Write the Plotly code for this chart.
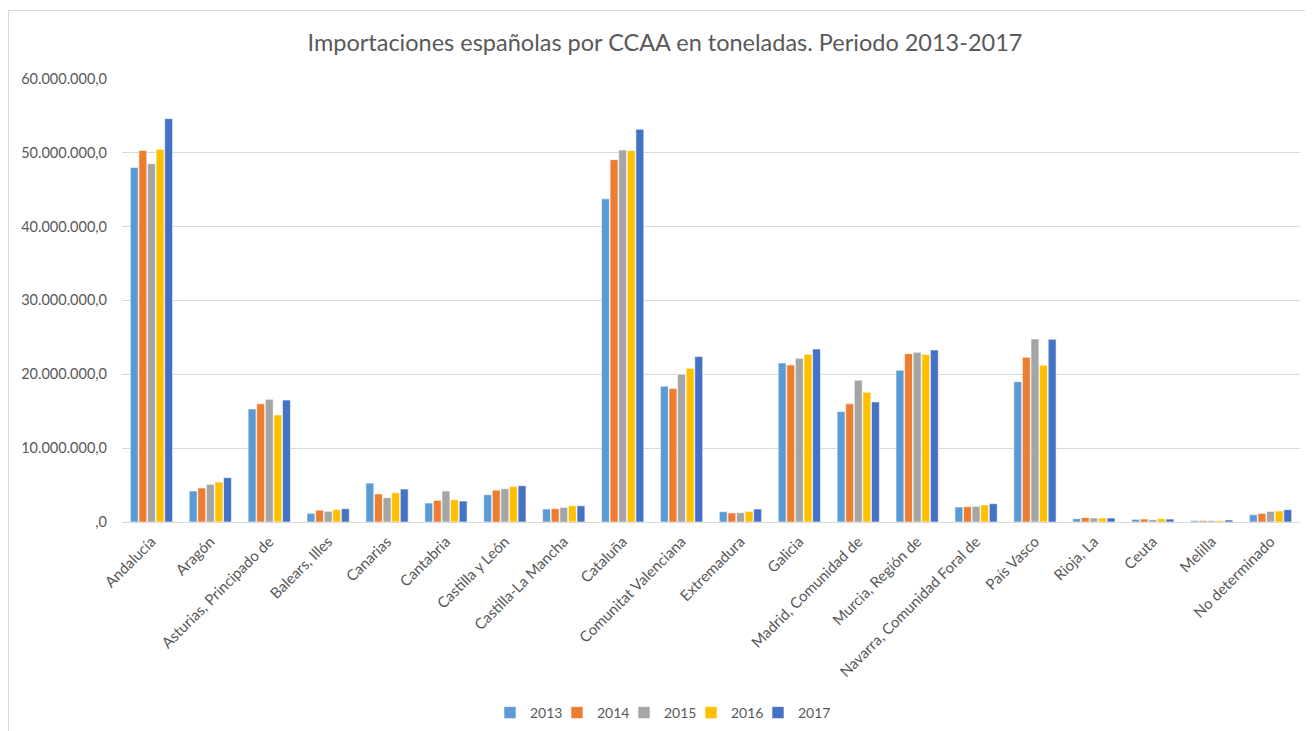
import plotly.graph_objects as go

categories = ["Andalucía", "Aragón", "Asturias, Principado de", "Balears, Illes", "Canarias",
              "Cantabria", "Castilla y León", "Castilla-La Mancha", "Cataluña", "Comunitat Valenciana",
              "Extremadura", "Galicia", "Madrid, Comunidad de", "Murcia, Región de",
              "Navarra, Comunidad Foral de", "País Vasco", "Rioja, La", "Ceuta", "Melilla", "No determinado"]

v2013 = [48.0, 4.2, 15.3, 1.17, 5.27, 2.57, 3.69, 1.76, 43.74, 18.38, 1.40, 21.53, 14.95, 20.54, 2.03, 19.00, 0.45, 0.36, 0.18, 0.99]
v2014 = [50.3, 4.6, 16.0, 1.60, 3.80, 2.93, 4.32, 1.80, 49.05, 18.06, 1.22, 21.26, 15.99, 22.79, 2.07, 22.30, 0.59, 0.40, 0.18, 1.17]
v2015 = [48.5, 5.1, 16.6, 1.45, 3.30, 4.19, 4.50, 1.98, 50.36, 20.00, 1.26, 22.16, 19.19, 22.97, 2.12, 24.77, 0.54, 0.32, 0.18, 1.44]
v2016 = [50.45, 5.4, 14.5, 1.67, 3.96, 3.02, 4.82, 2.20, 50.27, 20.81, 1.44, 22.70, 17.57, 22.66, 2.30, 21.22, 0.54, 0.45, 0.18, 1.49]
v2017 = [54.6, 6.0, 16.5, 1.80, 4.46, 2.84, 4.91, 2.20, 53.15, 22.39, 1.76, 23.42, 16.26, 23.29, 2.48, 24.73, 0.54, 0.40, 0.27, 1.67]

years = ["2013", "2014", "2015", "2016", "2017"]
colors = ["#5B9BD5", "#ED7D31", "#A5A5A5", "#FFC000", "#4472C4"]

tick_vals = [0, 10e6, 20e6, 30e6, 40e6, 50e6, 60e6]
tick_text = [",0", "10.000.000,0", "20.000.000,0", "30.000.000,0", "40.000.000,0", "50.000.000,0", "60.000.000,0"]

series = [v2013, v2014, v2015, v2016, v2017]

fig = go.Figure()
for name, vals, col in zip(years, series, colors):
    fig.add_trace(go.Bar(
        x=categories, y=[v * 1e6 for v in vals], name=name,
        marker=dict(color=col, line=dict(color="white", width=0.6)),
    ))
# invisible spacer entry so the last legend label is not clipped
fig.add_trace(go.Scatter(x=[None], y=[None], mode="markers", name="",
                         marker=dict(color="rgba(0,0,0,0)"), hoverinfo="skip"))

# page body has an 8px margin: figure origin sits at page (8, 8)
OFF = 8
W, H = 1313 - OFF, 731 - OFF
L, T = 122 - OFF, 78 - OFF
R = W - (1300 - OFF)
B = H - (522 - OFF)
pw, ph = W - L - R, H - T - B

def py(page_y):
    return ((H - B) - (page_y - OFF)) / ph

def px(page_x):
    return ((page_x - OFF) - L) / pw

fig.update_layout(
    width=W, height=H,
    margin=dict(l=L, r=R, t=T, b=B, autoexpand=False),
    paper_bgcolor="white", plot_bgcolor="white",
    font=dict(family="Lato, Open Sans, sans-serif", color="#595959", size=14),
    title=dict(text="Importaciones españolas por CCAA en toneladas. Periodo 2013-2017",
               x=(665 - OFF) / W, xanchor="center", y=1 - (43 - OFF) / H, yanchor="middle",
               font=dict(size=23.5, color="#595959")),
    barmode="group", bargap=0.27, bargroupgap=0.08,
    showlegend=True,
    legend=dict(orientation="h", x=px(490), xanchor="left", y=py(713),
                yanchor="middle", font=dict(size=14, color="#595959"), traceorder="normal",
                itemwidth=30, entrywidth=22),
    xaxis=dict(tickangle=-45, showgrid=False, showline=True, linecolor="#D9D9D9", linewidth=1,
               ticks="", automargin=False, ticklabelstandoff=4,
               tickfont=dict(size=15, color="#595959")),
    yaxis=dict(range=[0, 60.1e6], tickvals=tick_vals, ticktext=tick_text, showgrid=True,
               gridcolor="#D9D9D9", gridwidth=1, zeroline=False, ticks="", showline=False,
               automargin=False, ticklabelstandoff=14,
               tickfont=dict(size=14.5, color="#595959")),
    shapes=[dict(type="rect", xref="paper", yref="paper",
                 x0=px(8.5), x1=px(1340),
                 y0=py(760), y1=py(10.5),
                 line=dict(color="#D9D9D9", width=1), fillcolor="rgba(0,0,0,0)", layer="below")],
)

fig.write_html("out.html")
